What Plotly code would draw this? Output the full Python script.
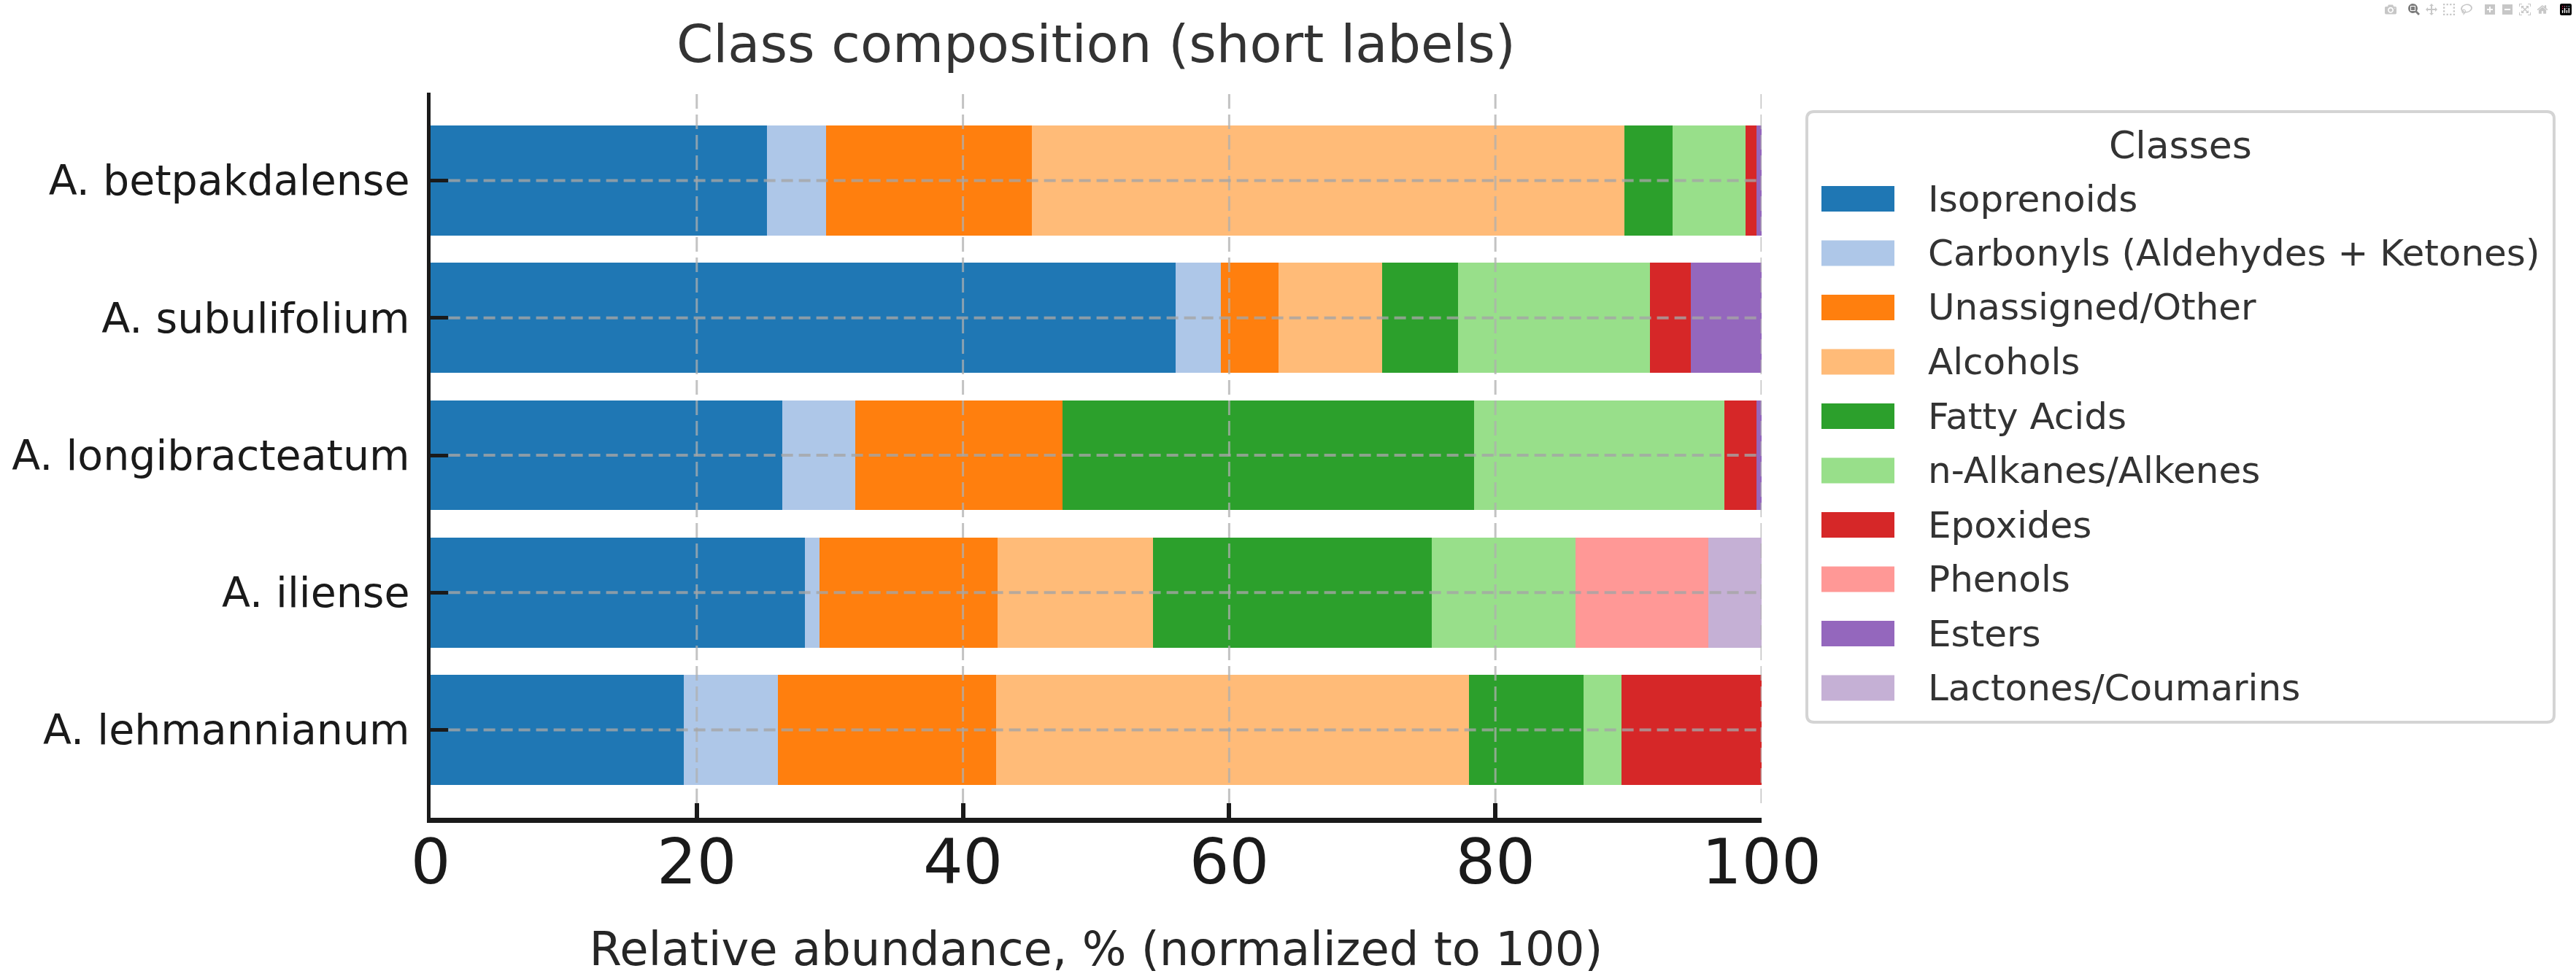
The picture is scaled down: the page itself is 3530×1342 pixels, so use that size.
import plotly.graph_objects as go

# ---------------- data ----------------
species = ["A. betpakdalense", "A. subulifolium", "A. longibracteatum",
           "A. iliense", "A. lehmannianum"]

classes = ["Isoprenoids", "Carbonyls (Aldehydes + Ketones)", "Unassigned/Other",
           "Alcohols", "Fatty Acids", "n-Alkanes/Alkenes", "Epoxides",
           "Phenols", "Esters", "Lactones/Coumarins"]

isoprenoids = [25.3, 56.0, 26.4, 28.1, 19.0]
carbonyls   = [4.4, 3.4, 5.5, 1.1, 7.1]
unassigned  = [15.5, 4.3, 15.6, 13.4, 16.4]
alcohols    = [44.5, 7.8, 0.0, 11.7, 35.5]
fatty_acids = [3.6, 5.7, 30.9, 20.9, 8.6]
alkanes     = [5.5, 14.4, 18.8, 10.8, 2.9]
epoxides    = [0.8, 3.1, 2.4, 0.0, 10.5]
phenols     = [0.0, 0.0, 0.0, 10.0, 0.0]
esters      = [0.4, 5.3, 0.4, 0.0, 0.0]
lactones    = [0.0, 0.0, 0.0, 4.0, 0.0]

series = [isoprenoids, carbonyls, unassigned, alcohols, fatty_acids,
          alkanes, epoxides, phenols, esters, lactones]

colors = ["#1f77b4", "#aec7e8", "#ff7f0e", "#ffbb78", "#2ca02c",
          "#98df8a", "#d62728", "#ff9896", "#9467bd", "#c5b0d5"]

x_ticks = [0, 20, 40, 60, 80, 100]

# ---------------- layout constants (pixels) ----------------
W, H = 3530, 1342
L, R, T, B = 590, 2414, 127, 1121
PW, PH = R - L, B - T
FONT = "DejaVu Sans"


def px_x(p):
    return (p - L) / PW


def px_y(p):
    return (B - p) / PH


fig = go.Figure()
for name, vals, col in zip(classes, series, colors):
    fig.add_trace(go.Bar(
        y=species, x=vals, name=name, orientation="h",
        marker=dict(color=col, line=dict(width=0)),
        showlegend=False,
    ))

shapes = []
# vertical dashed grid (drawn above bars like the reference)
for v in x_ticks[1:]:
    shapes.append(dict(type="line", xref="x", yref="paper", x0=v, x1=v,
                       y0=0.02, y1=1, layer="above",
                       line=dict(color="rgba(175,175,175,0.75)", width=3,
                                 dash="20px,8px")))
# horizontal dashed grid at each category
for s in species:
    shapes.append(dict(type="line", xref="x", yref="y", x0=1.35, x1=100,
                       y0=s, y1=s, layer="above",
                       line=dict(color="rgba(165,165,165,0.8)", width=4,
                                 dash="16px,8px")))

# ---------------- custom legend ----------------
bx0, bx1, by0, by1 = 2476, 3500, 153, 990
r = 10
X0, X1 = px_x(bx0), px_x(bx1)
Yt, Yb = px_y(by0), px_y(by1)
rx, ry = r / PW, r / PH
path = (f"M{X0+rx},{Yt} L{X1-rx},{Yt} Q{X1},{Yt} {X1},{Yt-ry} "
        f"L{X1},{Yb+ry} Q{X1},{Yb} {X1-rx},{Yb} L{X0+rx},{Yb} "
        f"Q{X0},{Yb} {X0},{Yb+ry} L{X0},{Yt-ry} Q{X0},{Yt} {X0+rx},{Yt} Z")
shapes.append(dict(type="path", path=path, xref="paper", yref="paper",
                   line=dict(color="#d4d4d4", width=4),
                   fillcolor="rgba(255,255,255,0.85)", layer="above"))

annotations = []
annotations.append(dict(text="Classes", xref="paper", yref="paper",
                        x=px_x((bx0 + bx1) / 2), y=px_y(199),
                        xanchor="center", yanchor="middle", showarrow=False,
                        font=dict(family=FONT, size=52, color="#333333")))
y_first, step = 272.5, 74.5
for k, (name, col) in enumerate(zip(classes, colors)):
    cy = y_first + k * step
    shapes.append(dict(type="rect", xref="paper", yref="paper",
                       x0=px_x(2496), x1=px_x(2596),
                       y0=px_y(cy - 17.5), y1=px_y(cy + 17.5),
                       fillcolor=col, line=dict(width=0), layer="above"))
    annotations.append(dict(text=name, xref="paper", yref="paper",
                            x=px_x(2640), y=px_y(cy), xanchor="left",
                            yanchor="middle", showarrow=False,
                            font=dict(family=FONT, size=50, color="#333333")))

fig.update_layout(
    width=W, height=H,
    margin=dict(l=L, r=W - R, t=T, b=H - B, pad=0),
    barmode="stack", bargap=0.2,
    plot_bgcolor="white", paper_bgcolor="white",
    font=dict(family=FONT, color="#262626"),
    title=dict(text="Class composition (short labels)",
               x=0.5, xref="paper", xanchor="center",
               y=1 - 60 / H, yref="container", yanchor="middle",
               font=dict(family=FONT, size=72, color="#333333")),
    xaxis=dict(range=[0, 100], tickvals=x_ticks, showgrid=False,
               zeroline=False, showline=True, linecolor="#1a1a1a",
               linewidth=7, ticks="inside", ticklen=20, tickwidth=6,
               tickcolor="#1a1a1a", tickfont=dict(size=86, color="#1a1a1a"),
               ticklabelstandoff=-20,
               title=dict(text="Relative abundance, % (normalized to 100)",
                          font=dict(size=64, color="#262626"), standoff=50),
               layer="above traces"),
    yaxis=dict(categoryorder="array", categoryarray=species,
               range=[4.64, -0.64], showgrid=False, zeroline=False,
               showline=True, linecolor="#1a1a1a", linewidth=5,
               ticks="inside", ticklen=24, tickwidth=5, tickcolor="#1a1a1a",
               tickfont=dict(size=57, color="#1a1a1a"),
               ticklabelstandoff=12, layer="above traces"),
    shapes=shapes,
    annotations=annotations,
)

fig.write_html(
    "out.html",
    post_script=("document.body.style.margin='0px';"
                 "document.body.style.overflow='hidden';"
                 "document.documentElement.style.overflow='hidden';"),
)
